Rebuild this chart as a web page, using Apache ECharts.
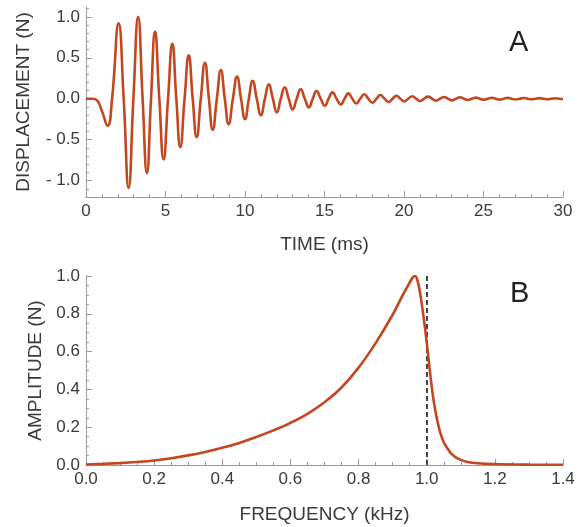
<!DOCTYPE html>
<html>
<head>
<meta charset="utf-8">
<script src="https://cdn.jsdelivr.net/npm/echarts@6/dist/echarts.min.js"></script>
<style>
html,body{margin:0;padding:0;background:#fff;}
#chart{width:582px;height:527px;}
</style>
</head>
<body>
<div id="chart"></div>
<script>
// ---- Panel A: damped oscillation (extrema and zero crossings) ----
const timeMs = [0, 0.4, 0.7, 1.0, 1.36, 1.64, 2.05, 2.37, 2.68, 2.98, 3.28, 3.56, 3.83, 4.09, 4.34, 4.61, 4.88, 5.16, 5.43, 5.68, 5.93, 6.2, 6.46, 6.71, 6.96, 7.22, 7.48, 7.73, 7.97, 8.23, 8.48, 8.73, 8.97, 9.24, 9.50, 9.75, 10.0, 10.24, 10.48, 10.74, 11.0, 11.25, 11.5, 11.75, 12.0, 12.25, 12.5, 12.75, 13.0, 13.25, 13.5, 13.76, 14.02, 14.26, 14.5, 14.76, 15.02, 15.26, 15.5, 15.76, 16.02, 16.26, 16.5, 16.75, 17.0, 17.25, 17.5, 17.76, 18.02, 18.27, 18.52, 18.78, 19.04, 19.28, 19.52, 19.77, 20.02, 20.27, 20.52, 20.77, 21.02, 21.27, 21.52, 21.77, 22.02, 22.27, 22.52, 22.77, 23.02, 23.27, 23.52, 23.77, 24.02, 24.27, 24.52, 24.77, 25.02, 25.27, 25.52, 25.77, 26.02, 26.27, 26.52, 26.77, 27.02, 27.27, 27.52, 27.77, 28.02, 28.27, 28.52, 28.77, 29.02, 29.27, 29.52, 29.77, 30];
const displacement = [0, 0, -0.02, -0.15, -0.33, 0, 0.92, 0, -1.09, 0, 1.0, 0, -0.91, 0, 0.82, 0, -0.74, 0, 0.67, 0, -0.59, 0, 0.53, 0, -0.47, 0, 0.44, 0, -0.38, 0, 0.35, 0, -0.31, 0, 0.27, 0, -0.25, 0, 0.22, 0, -0.20, 0, 0.175, 0, -0.165, 0, 0.14, 0, -0.13, 0, 0.115, 0, -0.105, 0, 0.095, 0, -0.085, 0, 0.078, 0, -0.07, 0, 0.065, 0, -0.058, 0, 0.054, 0, -0.049, 0, 0.045, 0, -0.04, 0, 0.037, 0, -0.034, 0, 0.031, 0, -0.028, 0, 0.026, 0, -0.023, 0, 0.021, 0, -0.019, 0, 0.018, 0, -0.016, 0, 0.015, 0, -0.013, 0, 0.012, 0, -0.011, 0, 0.01, 0, -0.009, 0, 0.008, 0, -0.007, 0, 0.007, 0, -0.006, 0, 0.006, 0, -0.003];
const dispMajorTicks = [-1.0, -0.5, 0.0, 0.5, 1.0];
const dispMinorTicks = [-1.1, -0.9, -0.8, -0.7, -0.6, -0.4, -0.3, -0.2, -0.1, 0.1, 0.2, 0.3, 0.4, 0.6, 0.7, 0.8, 0.9, 1.1];

// ---- Panel B: amplitude spectrum ----
const freqKHz = [0, 0.05, 0.1, 0.15, 0.2, 0.25, 0.3, 0.35, 0.4, 0.45, 0.5, 0.55, 0.6, 0.65, 0.7, 0.75, 0.8, 0.85, 0.9, 0.93, 0.95, 0.958, 0.966, 0.973, 0.981, 0.988, 0.996, 1.004, 1.011, 1.018, 1.025, 1.033, 1.04, 1.05, 1.06, 1.072, 1.084, 1.1, 1.12, 1.15, 1.2, 1.3, 1.4];
const amplitude = [0.003, 0.006, 0.01, 0.016, 0.024, 0.036, 0.051, 0.069, 0.091, 0.117, 0.148, 0.183, 0.223, 0.271, 0.332, 0.41, 0.515, 0.645, 0.795, 0.9, 0.965, 0.99, 1.0, 0.975, 0.905, 0.82, 0.71, 0.585, 0.47, 0.37, 0.29, 0.22, 0.17, 0.12, 0.09, 0.06, 0.042, 0.027, 0.016, 0.009, 0.005, 0.002, 0.001];
const markerFreq = 1.0;

const lineColor = '#c4461f';
const axisColor = '#9a9a9a';
const textColor = '#3a3a3a';
const FONT = '"Liberation Sans", Arial, sans-serif';

const chart = echarts.init(document.getElementById('chart'), null, {renderer: 'canvas'});

function axisBase(extra) {
  return Object.assign({
    axisLine: {show: true, onZero: false, lineStyle: {color: axisColor, width: 1}},
    axisTick: {show: true, inside: true, length: 6, lineStyle: {color: axisColor}},
    splitLine: {show: false},
    axisLabel: {color: textColor, fontSize: 17, fontFamily: FONT, margin: 6},
    nameTextStyle: {color: textColor, fontSize: 19, fontFamily: FONT},
    nameLocation: 'middle'
  }, extra);
}

const option = {
  animation: false,
  backgroundColor: '#fff',
  grid: [
    {left: 86, right: 19, top: 7, bottom: 330, containLabel: false},
    {left: 86, right: 19, top: 276, bottom: 62, containLabel: false}
  ],
  xAxis: [
    axisBase({
      type: 'value', gridIndex: 0, min: 0, max: 30, interval: 5,
      name: 'TIME (ms)', nameGap: 38,
      minorTick: {show: true, splitNumber: 5, length: 3, lineStyle: {color: axisColor}},
      axisLabel: {color: textColor, fontSize: 17, fontFamily: FONT, margin: 6}
    }),
    axisBase({
      type: 'value', gridIndex: 1, min: 0, max: 1.4, interval: 0.2,
      name: 'FREQUENCY (kHz)', nameGap: 40,
      minorTick: {show: true, splitNumber: 4, length: 3, lineStyle: {color: axisColor}},
      axisLabel: {color: textColor, fontSize: 17, fontFamily: FONT, margin: 6,
        formatter: v => v.toFixed(1)}
    })
  ],
  yAxis: [
    axisBase({
      type: 'value', gridIndex: 0, min: -1.2, max: 1.12,
      name: 'DISPLACEMENT (N)', nameGap: 53, nameRotate: 90,
      axisTick: {show: true, inside: true, length: 6, customValues: dispMajorTicks, lineStyle: {color: axisColor}},
      axisLabel: {color: textColor, fontSize: 17, fontFamily: FONT, margin: 6,
        customValues: dispMajorTicks,
        formatter: v => (v < 0 ? '- ' + Math.abs(v).toFixed(1) : v.toFixed(1))}
    }),
    {
      type: 'value', gridIndex: 0, min: -1.2, max: 1.12, position: 'left',
      axisLine: {show: false},
      axisLabel: {show: false},
      splitLine: {show: false},
      axisTick: {show: true, inside: true, length: 3, customValues: dispMinorTicks, lineStyle: {color: axisColor}}
    },
    axisBase({
      type: 'value', gridIndex: 1, min: 0, max: 1.0, interval: 0.2,
      name: 'AMPLITUDE (N)', nameGap: 41, nameRotate: 90,
      minorTick: {show: true, splitNumber: 4, length: 3, lineStyle: {color: axisColor}},
      axisLabel: {color: textColor, fontSize: 17, fontFamily: FONT, margin: 6,
        formatter: v => v.toFixed(1)}
    })
  ],
  series: [
    {
      type: 'line', xAxisIndex: 0, yAxisIndex: 0,
      data: timeMs.map((t, i) => [t, displacement[i]]),
      smooth: 0.5, showSymbol: false, symbol: 'none',
      lineStyle: {color: lineColor, width: 2.6},
      z: 3
    },
    {
      type: 'line', xAxisIndex: 1, yAxisIndex: 2,
      data: freqKHz.map((f, i) => [f, amplitude[i]]),
      smooth: 0.4, showSymbol: false, symbol: 'none',
      lineStyle: {color: lineColor, width: 2.6},
      z: 3,
      markLine: {
        silent: true, symbol: 'none', label: {show: false},
        lineStyle: {color: '#444', type: [5, 3], width: 2},
        data: [{xAxis: markerFreq}],
        z: 2
      }
    }
  ],
  graphic: [
    {type: 'text', left: 509, top: 28, style: {text: 'A', fontSize: 29, fontFamily: FONT, fill: '#222'}},
    {type: 'text', left: 510, top: 279, style: {text: 'B', fontSize: 29, fontFamily: FONT, fill: '#222'}}
  ]
};
chart.setOption(option);
</script>
</body>
</html>
